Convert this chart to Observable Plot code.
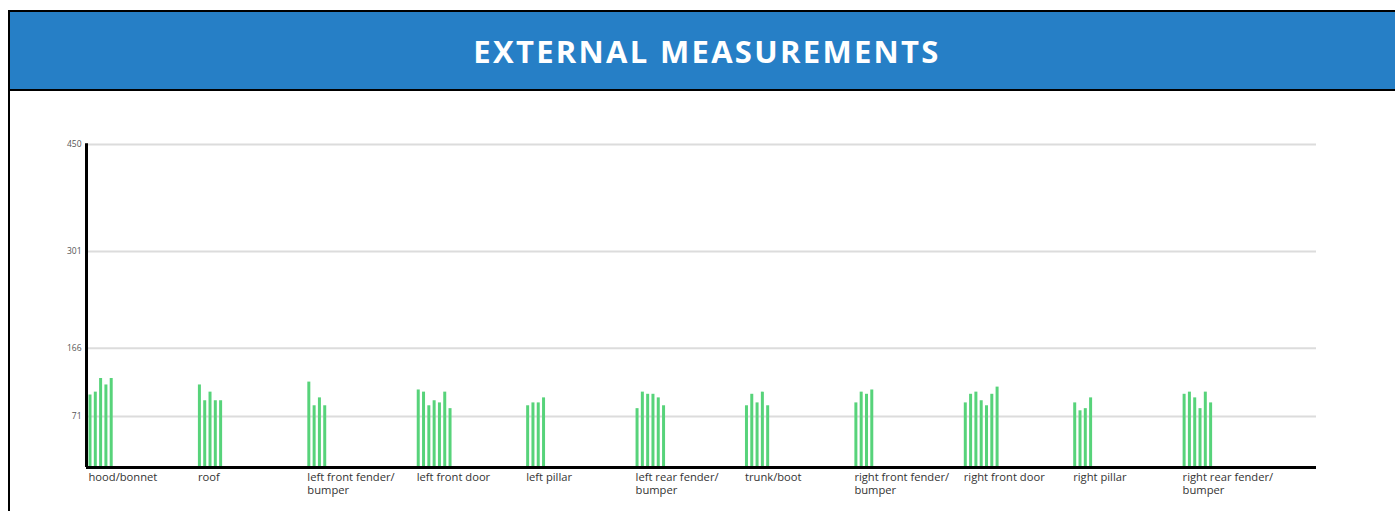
<!DOCTYPE html>
<html>
<head>
<meta charset="utf-8">
<script src="https://cdn.jsdelivr.net/npm/d3@7"></script>
<script src="https://cdn.jsdelivr.net/npm/@observablehq/plot@0.6"></script>
<style>
  html, body { margin: 0; padding: 0; background: #fff; width: 1395px; height: 511px; overflow: hidden; position: relative; }
  #card { position: absolute; left: 8px; top: 10px; width: 1392px; height: 530px; border: 2px solid #000; box-sizing: content-box; }
  #header { height: 77px; background: #267fc6; border-bottom: 2px solid #000; display: flex; align-items: center; justify-content: center;
    color: #fff; font-family: "Open Sans", sans-serif; font-weight: 700; font-size: 31px; letter-spacing: 2.3px; padding-left: 2px; }
  #chart { position: absolute; left: 0; top: 92px; }
</style>
</head>
<body>
<div id="card"><div id="header">EXTERNAL MEASUREMENTS</div></div>
<div id="chart"></div>
<script>
const categories = ["hood/bonnet", "roof", "left front fender/bumper", "left front door", "left pillar",
  "left rear fender/bumper", "trunk/boot", "right front fender/bumper", "right front door", "right pillar",
  "right rear fender/bumper"];
const hoodBonnet = [101, 105, 124, 115, 124];
const roof = [115, 93, 105, 93, 93];
const leftFrontFender = [119, 86, 97, 86];
const leftFrontDoor = [108, 105, 86, 93, 90, 105, 82];
const leftPillar = [86, 90, 90, 97];
const leftRearFender = [82, 105, 102, 102, 97, 86];
const trunkBoot = [86, 102, 90, 105, 86];
const rightFrontFender = [90, 105, 102, 108];
const rightFrontDoor = [90, 102, 105, 93, 86, 102, 112];
const rightPillar = [90, 79, 82, 97];
const rightRearFender = [102, 105, 97, 82, 105, 90];
const yTicks = [71, 166, 301, 450];

const series = [hoodBonnet, roof, leftFrontFender, leftFrontDoor, leftPillar, leftRearFender,
  trunkBoot, rightFrontFender, rightFrontDoor, rightPillar, rightRearFender];
const barStep = 0.04845;
const rows = categories.flatMap((c, gi) => series[gi].map((v, i) => ({category: c, gi, i, v})));

const font = "'Open Sans', sans-serif";
const chart = Plot.plot({
  width: 1395,
  height: 419,
  marginLeft: 86,
  marginRight: 79,
  marginTop: 52,
  marginBottom: 44,
  style: {fontFamily: font, background: "transparent"},
  x: {domain: [-0.032, 11.21], axis: null},
  y: {domain: [0, 450], axis: null},
  marks: [
    Plot.gridY(yTicks, {stroke: "#dcdcdc", strokeOpacity: 1, strokeWidth: 2}),
    Plot.ruleX(rows, {x: d => d.gi + d.i * barStep, y1: 0, y2: "v", stroke: "#57d37a", strokeWidth: 3}),
    Plot.ruleY([0], {stroke: "#000", strokeWidth: 3}),
    Plot.ruleX([-0.032], {y1: 0, y2: 451, stroke: "#000", strokeWidth: 3}),
    Plot.axisY({ticks: yTicks, tickSize: 0, tickPadding: 5, fontSize: 8.5, fill: "#555", label: null}),
    Plot.text(categories, {
      x: (d, i) => i, y: 0,
      text: d => d.replace("fender/", "fender/\n"),
      textAnchor: "start", lineAnchor: "top", dx: -1.5, dy: 4,
      fontSize: 11.2, lineHeight: 1.18, fill: "#333"
    })
  ]
});
document.getElementById("chart").appendChild(chart);
</script>
</body>
</html>
